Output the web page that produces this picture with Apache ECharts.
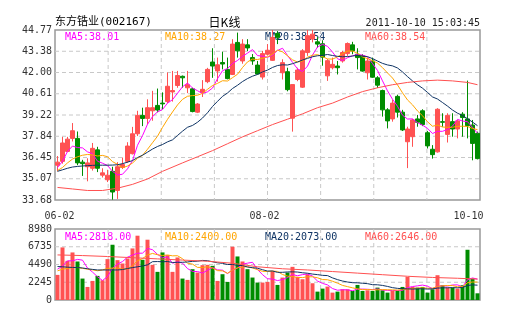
<!DOCTYPE html>
<html><head><meta charset="utf-8">
<script src="https://cdn.jsdelivr.net/npm/echarts@6/dist/echarts.min.js"></script>
<style>html,body{margin:0;padding:0;background:#fff}#c{width:505px;height:330px}</style>
</head><body><div id="c"></div>
<script>
// ---- data ----
const titleText = '东方锆业(002167)';
const chartType = '日K线';
const timeStamp = '2011-10-10 15:03:45';
const priceLegend = ['MA5:38.01', 'MA10:38.27', 'MA20:38.54', 'MA60:38.54'];
const volLegend = ['MA5:2818.00', 'MA10:2400.00', 'MA20:2073.00', 'MA60:2646.00'];
const priceTicks = ['33.68', '35.07', '36.45', '37.84', '39.22', '40.61', '42.00', '43.38', '44.77'];
const volTicks = ['0', '2245', '4490', '6735', '8980'];
const xTickLabels = ['06-02', '', '', '', '08-02', '', '', '', '10-10'];

const opens = [35.95,36.2,36.85,37.7,37.7,36.15,35.85,35.75,36.95,35.3,35.0,35.55,34.3,35.8,36.2,36.7,38.0,39.2,39.0,39.5,
  39.85,40.0,40.1,40.73,41.15,41.75,41.0,40.93,39.41,40.7,41.4,42.68,42.1,42.65,42.2,41.87,43.96,42.75,43.8,42.97,
  42.48,41.7,43.19,42.79,44.55,41.98,42.05,39.02,41.54,41.04,43.3,44.18,44.0,43.87,41.78,42.31,42.42,42.75,43.23,43.8,
  43.19,43.08,41.98,42.75,41.65,40.82,39.56,38.97,40.44,39.41,37.48,37.81,38.97,39.5,38.07,36.99,36.82,38.79,37.96,38.79,
  38.31,39.28,38.97,38.57,38.03];
const closes = [36.15,37.4,37.65,38.2,36.1,36.05,36.1,37.05,35.75,35.45,35.3,34.2,35.85,36.0,37.2,38.0,39.2,39.0,39.7,39.7,
  39.55,39.95,41.1,40.82,41.8,41.65,41.2,39.45,39.94,40.9,42.2,42.42,42.5,42.55,41.6,43.85,43.41,43.85,43.6,42.75,
  41.9,43.23,43.45,44.29,44.29,42.64,40.88,41.21,42.16,43.41,44.4,44.5,43.85,43.0,42.77,42.53,42.31,43.3,43.89,43.41,
  42.97,42.09,42.75,41.69,41.17,39.56,38.84,40.0,39.41,38.25,38.31,38.9,38.75,38.6,37.21,36.64,39.6,38.75,39.2,38.31,
  38.84,39.06,38.53,37.37,36.38];
const lows = [35.55,36.05,36.8,37.5,35.95,35.25,34.9,35.6,35.5,35.15,34.85,33.7,33.75,35.7,36.1,36.65,37.85,38.5,38.6,38.85,
  39.4,39.6,40.0,40.1,41.0,41.0,40.65,39.4,39.35,40.4,41.3,41.65,41.4,42.2,41.55,41.83,42.97,42.57,43.4,42.5,
  41.87,41.54,43.1,42.75,43.85,41.54,40.77,38.14,41.43,40.99,43.08,43.96,43.6,42.44,41.45,42.2,41.87,42.64,43.08,43.19,
  42.2,42.05,41.54,41.65,40.99,39.12,38.35,38.79,39.06,38.18,35.76,37.15,38.46,38.5,37.04,36.38,36.77,38.46,37.43,37.81,
  37.7,37.81,37.7,36.27,36.33];
const highs = [36.55,37.8,37.8,38.7,38.15,36.3,36.4,37.4,37.15,35.75,35.65,35.85,36.15,36.45,37.45,38.45,39.5,39.7,40.25,40.8,
  40.95,40.7,42.0,42.1,42.1,41.8,42.1,41.0,40.0,41.5,42.3,43.58,42.97,43.36,42.97,44.17,44.6,44.17,44.17,43.2,
  42.75,43.41,43.85,44.77,44.7,42.86,42.31,41.21,42.31,43.52,44.77,44.77,44.3,44.1,42.88,42.97,42.75,43.41,43.96,44.0,
  43.58,43.19,42.97,42.97,41.76,40.88,39.67,40.22,40.55,39.56,38.46,38.97,39.23,39.6,38.18,37.26,39.67,39.34,39.34,39.34,
  38.9,39.41,41.47,38.9,38.14];
const volumes = [3177,6650,4956,6015,4871,2711,1652,2414,3050,2499,5168,6989,5041,4617,5253,6523,8133,5083,7625,4448,
  3558,6015,5676,3558,5380,2711,2542,3897,3474,4405,4448,4320,2414,3262,2287,6735,5507,4871,3897,2840,
  2206,2206,2287,3685,1906,2838,3474,4194,2923,2626,3262,2118,1059,1440,1694,932,1059,1355,1355,1144,
  1906,1144,1228,1144,1567,1228,932,1144,1144,1652,2923,1652,1567,1652,932,1355,3135,1864,1567,1567,
  1440,1864,6354,2711,847];

const priceMA5Lead = [35.8, 36.2, 36.85, 37.2];
const priceMA10Lead = [35.6, 35.8, 36.1, 36.35, 36.5, 36.6, 36.65, 36.62, 36.55];
const priceMA20Lead = [35.55,35.65,35.75,35.83,35.87,35.9,35.92,35.94,35.95,35.95,35.95,35.96,35.98,36.05,36.15,36.25,36.45,36.6,36.8];
const priceMA60Read = [[0,34.5],[3,34.4],[6,34.3],[9,34.3],[12,34.45],[15,34.7],[18,35.05],[21,35.55],[25,36.1],[28,36.5],
  [31,36.9],[34,37.35],[37,37.8],[40,38.2],[43,38.6],[46,38.95],[49,39.3],[52,39.7],[55,40.0],[58,40.4],[61,40.75],
  [64,41.0],[67,41.2],[70,41.35],[73,41.45],[76,41.5],[79,41.45],[82,41.35],[84,41.2]];
const volMA5Lead = [3897, 4300, 4956, 4956];
const volMA10Lead = [3685, 3900, 4000, 4100, 4109, 4000, 3900, 3812, 3700];
const volMA20Lead = [4236,4200,4150,4120,4109,4050,3950,3870,3800,3800,3800,3800,3800,3850,3982,4100,4200,4300,4450];
const volMA60Read = [[0,5700],[5,5620],[10,5500],[15,5350],[20,5200],[25,5050],[30,4900],[35,4650],[40,4200],[45,3950],
  [50,3800],[55,3600],[60,3400],[65,3200],[70,3000],[75,2850],[80,2750],[84,2646]];

// ---- chart ----
const N = closes.length;                 // day i sits in slot [i, i+1] of the x axis
const X_STEP = N / 8;                     // 8 evenly spaced vertical grid divisions
const P_MIN = 33.68, P_MAX = 44.77, P_STEP = (P_MAX - P_MIN) / 8;
const V_MAX = 8980, V_STEP = V_MAX / 4;
const xc = (i) => i + 0.5;
function movingAvg(values, n, lead) {
  return values.map((v, i) => {
    if (i < n - 1) return lead[i];
    let s = 0; for (let k = i - n + 1; k <= i; k++) s += values[k];
    return +(s / n).toFixed(3);
  });
}

const UP = '#ff5252', DOWN = '#008c00';
const MA_COLORS = ['#ff00ff', '#ffa500', '#0f3464', '#ff5050'];
const FONT = 'DejaVu Sans Mono';
const GRID_COLOR = '#c8c8c8';

const priceMAs = [movingAvg(closes, 5, priceMA5Lead), movingAvg(closes, 10, priceMA10Lead),
  movingAvg(closes, 20, priceMA20Lead)].map((a) => a.map((v, i) => [xc(i), v]));
priceMAs.push(priceMA60Read.map(([i, v]) => [xc(i), v]));
const volMAs = [movingAvg(volumes, 5, volMA5Lead), movingAvg(volumes, 10, volMA10Lead),
  movingAvg(volumes, 20, volMA20Lead)].map((a) => a.map((v, i) => [xc(i), v]));
volMAs.push(volMA60Read.map(([i, v]) => [xc(i), v]));

function textEl(text, x, y, size, color, align, family) {
  return { type: 'text', x: x, y: y, silent: true, z: 0,
    style: { text: text, font: size + 'px ' + (family || ('"' + FONT + '","Noto Sans CJK SC"')), fill: color,
      textAlign: align || 'left', align: align || 'left', textVerticalAlign: 'middle', verticalAlign: 'middle' } };
}
const graphics = [
  textEl(titleText, 55, 22, 11, '#000'),
  textEl(chartType, 224.5, 22, 12, '#000', 'center', '"Noto Sans CJK SC"'),
  textEl(timeStamp, 480, 23, 10, '#222', 'right')
];
priceLegend.forEach((t, k) => graphics.push(textEl(t, 65 + 100 * k, 37, 10, MA_COLORS[k])));
volLegend.forEach((t, k) => graphics.push(textEl(t, 65 + 100 * k, 237, 10, MA_COLORS[k])));

// dashed grid lines at the axis tick values, built as short solid pieces (4px on, 3px off) on the axes' own scales
function gridPieces(xAxisIndex, yAxisIndex, yMin, yMax, yStep, yCount, pxW, pxH) {
  const pts = [];
  const dx = 4 / pxW * N, gx = 3 / pxW * N;
  const dy = 4 / pxH * (yMax - yMin), gy = 3 / pxH * (yMax - yMin);
  for (let k = 1; k < yCount; k++) {
    const y = yMin + k * yStep;
    for (let x = 0; x < N; x += dx + gx) { const e = Math.min(x + dx, N); pts.push([x, y], [e, y], [e, null]); }
  }
  for (let k = 1; k < 8; k++) {
    const x = k * X_STEP;
    for (let y = yMax; y > yMin; y -= dy + gy) { const e = Math.max(y - dy, yMin); pts.push([x, y], [x, e], [x, null]); }
  }
  return { type: 'line', xAxisIndex: xAxisIndex, yAxisIndex: yAxisIndex, data: pts, symbol: 'none', showSymbol: false,
    connectNulls: false, silent: true, z: 1, animation: false, clip: true,
    lineStyle: { color: GRID_COLOR, width: 1, type: 'solid' }, emphasis: { disabled: true } };
}

const series = [
  gridPieces(0, 0, P_MIN, P_MAX, P_STEP, 8, 425, 170),
  gridPieces(1, 1, 0, V_MAX, V_STEP, 4, 425, 71),
  {
    type: 'candlestick', xAxisIndex: 0, yAxisIndex: 0, barWidth: 4, encode: { x: 0, y: [1, 2, 3, 4] },
    data: closes.map((c, i) => [xc(i), opens[i], c, lows[i], highs[i]]),
    itemStyle: { color: UP, color0: DOWN, borderColor: UP, borderColor0: DOWN, borderWidth: 1 }, z: 2
  }, {
    type: 'bar', xAxisIndex: 1, yAxisIndex: 1, barWidth: 4, z: 2,
    data: volumes.map((v, i) => ({ value: [xc(i), v], itemStyle: { color: closes[i] >= opens[i] ? UP : DOWN } }))
  }];
priceMAs.forEach((d, k) => series.push({ type: 'line', xAxisIndex: 0, yAxisIndex: 0, data: d, symbol: 'none',
  lineStyle: { width: 1, color: MA_COLORS[k] }, z: 3 }));
volMAs.forEach((d, k) => series.push({ type: 'line', xAxisIndex: 1, yAxisIndex: 1, data: d, symbol: 'none',
  lineStyle: { width: 1, color: MA_COLORS[k] }, z: 3 }));

const noLine = { axisLine: { show: false }, axisTick: { show: false }, splitLine: { show: false } };
const chart = echarts.init(document.getElementById('c'), null, { renderer: 'canvas' });
chart.setOption({
  animation: false,
  backgroundColor: '#fff',
  grid: [
    { left: 55, top: 30, width: 425, height: 170, show: true, backgroundColor: 'transparent', borderColor: '#999', borderWidth: 1.5 },
    { left: 55, top: 229, width: 425, height: 71, show: true, backgroundColor: 'transparent', borderColor: '#999', borderWidth: 1.5 }
  ],
  xAxis: [
    Object.assign({ type: 'value', gridIndex: 0, min: 0, max: N, interval: X_STEP,
      axisLabel: { show: true, margin: 11, color: '#333', fontFamily: FONT, fontSize: 10, showMinLabel: true, showMaxLabel: true,
        formatter: (v) => {
          const k = Math.round(v / X_STEP), t = xTickLabels[k] || '';
          if (!t) return '';
          return k === 0 ? '{a|' + t + '}' : (k === 8 ? '{c|' + t + '}' : '{b|' + t + '}');
        },
        rich: {
          a: { padding: [0, 0, 0, 9], color: '#333', fontFamily: FONT, fontSize: 10 },
          b: { padding: [0, 6, 0, 0], color: '#333', fontFamily: FONT, fontSize: 10 },
          c: { padding: [0, 23, 0, 0], color: '#333', fontFamily: FONT, fontSize: 10 }
        } } }, noLine),
    Object.assign({ type: 'value', gridIndex: 1, min: 0, max: N, interval: X_STEP, axisLabel: { show: false } }, noLine)
  ],
  yAxis: [
    Object.assign({ type: 'value', gridIndex: 0, min: P_MIN, max: P_MAX, interval: P_STEP,
      axisLabel: { margin: 3, color: '#333', fontFamily: FONT, fontSize: 10, showMinLabel: true, showMaxLabel: true,
        formatter: (v) => priceTicks[Math.round((v - P_MIN) / P_STEP)] || '' } }, noLine),
    Object.assign({ type: 'value', gridIndex: 1, min: 0, max: V_MAX, interval: V_STEP,
      axisLabel: { margin: 3, color: '#333', fontFamily: FONT, fontSize: 10, showMinLabel: true, showMaxLabel: true,
        formatter: (v) => volTicks[Math.round(v / V_STEP)] || '' } }, noLine)
  ],
  graphic: graphics,
  series: series
});
</script></body></html>
